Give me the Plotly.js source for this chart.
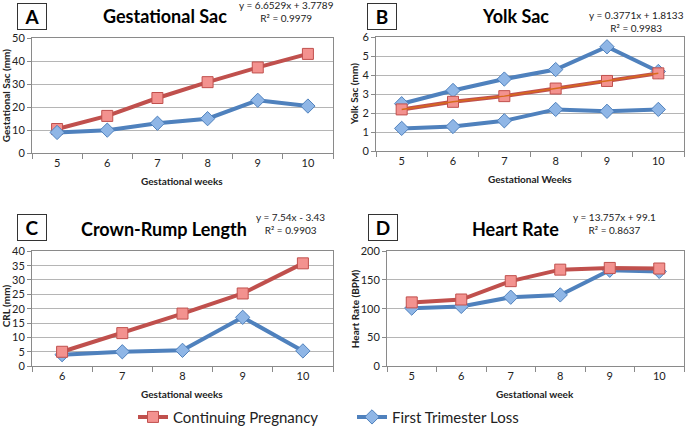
<!DOCTYPE html>
<html><head><meta charset="utf-8">
<script src="https://cdn.plot.ly/plotly-3.0.1.min.js"></script>
<style>html,body{margin:0;padding:0;background:#fff}#c{width:685px;height:434px}</style>
</head><body><div id="c"></div>
<script>
// ---- data ----
const weeksA = [5,6,7,8,9,10];
const gsContinuing = [10.5,16.2,24.0,30.9,37.3,43.2];
const gsLoss = [9.0,10.0,13.0,15.0,23.0,20.5];

const weeksB = [5,6,7,8,9,10];
const ysContinuing = [2.2,2.6,2.9,3.3,3.7,4.1];
const ysLossUpper = [2.5,3.2,3.8,4.3,5.5,4.2];
const ysLossLower = [1.2,1.3,1.6,2.2,2.1,2.2];

const weeksC = [6,7,8,9,10];
const crlContinuing = [5.0,11.5,18.3,25.3,35.8];
const crlLoss = [4.0,5.0,5.5,17.0,5.3];

const weeksD = [5,6,7,8,9,10];
const hrContinuing = [111,116,148,168,171,170];
const hrLoss = [101,104,120,124,167,165];

const seriesNames = ['Continuing Pregnancy','First Trimester Loss'];
const panelLetters = ['A','B','C','D'];
const panelTitles = ['Gestational Sac','Yolk Sac','Crown-Rump Length','Heart Rate'];
const equations = ['y = 6.6529x + 3.7789<br>R² = 0.9979','y = 0.3771x + 1.8133<br>R² = 0.9983','y = 7.54x - 3.43<br>R² = 0.9903','y = 13.757x + 99.1<br>R² = 0.8637'];
const xTitles = ['Gestational weeks','Gestational Weeks','Gestational weeks','Gestational week'];
const yTitles = ['Gestational Sac (mm)','Yolk Sac (mm)','CRL (mm)','Heart Rate (BPM)'];

// ---- styling ----
const W=685,H=434;
const px = x => x/W, py = y => 1 - y/H;
const RED='#c0504d', BLUE='#4f81bd';
const FONT='Lato, "Open Sans", sans-serif';
const redMarker = {symbol:'square', size:11, color:'#f3928f', line:{color:RED, width:1}};
const blueMarker = {symbol:'diamond', size:11, color:'#8fb6e6', line:{color:BLUE, width:1}};

function red(x,y,xa,ya,legend){
  return {x:x,y:y,xaxis:xa,yaxis:ya,type:'scatter',mode:'lines+markers',name:seriesNames[0],
    line:{color:RED,width:4},marker:redMarker,showlegend:!!legend,legend:'legend',hoverinfo:'x+y'};
}
function blue(x,y,xa,ya,legend){
  return {x:x,y:y,xaxis:xa,yaxis:ya,type:'scatter',mode:'lines+markers',name:seriesNames[1],
    line:{color:BLUE,width:4},marker:blueMarker,showlegend:!!legend,legend:'legend2',hoverinfo:'x+y'};
}

const data = [
  red(weeksA,gsContinuing,'x','y',true),
  blue(weeksA,gsLoss,'x','y',true),
  blue(weeksB,ysLossUpper,'x2','y2'),
  blue(weeksB,ysLossLower,'x2','y2'),
  red(weeksB,ysContinuing,'x2','y2'),
  {x:weeksB,y:ysContinuing,xaxis:'x2',yaxis:'y2',type:'scatter',mode:'lines',line:{color:'#d86a1a',width:1.5},showlegend:false,hoverinfo:'skip'},
  blue(weeksC,crlLoss,'x3','y3'),
  red(weeksC,crlContinuing,'x3','y3'),
  blue(weeksD,hrLoss,'x4','y4'),
  red(weeksD,hrContinuing,'x4','y4'),
];

function xax(dom,range,t0,anchor){
  return {domain:dom,range:range,anchor:anchor,tick0:t0,dtick:1,ticks:'',showgrid:false,zeroline:false,
    showline:true,linecolor:'#8a8a8a',linewidth:1,mirror:true,
    tickfont:{family:FONT,size:11,color:'#222'},fixedrange:true,
    minor:{tick0:0.5,dtick:1,ticks:'outside',ticklen:5,tickcolor:'#8a8a8a',showgrid:false}};
}
function yax(dom,range,dt,anchor){
  return {domain:dom,range:range,anchor:anchor,dtick:dt,tick0:0,ticks:'outside',ticklen:4,tickcolor:'#8a8a8a',
    showgrid:true,gridcolor:'#b5b5b5',gridwidth:1,zeroline:false,showline:true,linecolor:'#8a8a8a',mirror:true,
    tickfont:{family:FONT,size:11,color:'#222'},fixedrange:true};
}

const boxes=[[32,16.5],[382,16.5],[32,232],[383,232]];
const titlePos=[[165,16],[515,16],[164,233],[515,233]];
const eqPos=[[286,12],[636,22],[290,228],[614,228]];
const xtPos=[[182,184],[530,182],[182,401],[535,401]];
const ytPos=[[6,97],[354,96],[6,312],[355,315]];

const ann=[];
for(let i=0;i<4;i++){
  ann.push({xref:'paper',yref:'paper',x:px(boxes[i][0]),y:py(boxes[i][1]),text:'<b>'+panelLetters[i]+'</b>',showarrow:false,
    font:{family:FONT,size:19,color:'#000'},bordercolor:'#333',borderwidth:1,borderpad:0,width:28,height:25,bgcolor:'#fff',xanchor:'center',yanchor:'middle'});
  ann.push({xref:'paper',yref:'paper',x:px(titlePos[i][0]),y:py(titlePos[i][1]),text:'<b>'+panelTitles[i]+'</b>',showarrow:false,
    font:{family:FONT,size:18,color:'#000'},xanchor:'center',yanchor:'middle'});
  ann.push({xref:'paper',yref:'paper',x:px(eqPos[i][0]),y:py(eqPos[i][1]),text:equations[i],showarrow:false,
    font:{family:FONT,size:10,color:'#222'},xanchor:'center',yanchor:'middle',align:'center'});
  ann.push({xref:'paper',yref:'paper',x:px(xtPos[i][0]),y:py(xtPos[i][1]),text:'<b>'+xTitles[i]+'</b>',showarrow:false,
    font:{family:FONT,size:10,color:'#222'},xanchor:'center',yanchor:'middle'});
  ann.push({xref:'paper',yref:'paper',x:px(ytPos[i][0]),y:py(ytPos[i][1]),text:'<b>'+yTitles[i]+'</b>',showarrow:false,textangle:-90,
    font:{family:FONT,size:10,color:'#222'},xanchor:'center',yanchor:'middle'});
}

const layout = {
  width:W,height:H,margin:{l:0,r:0,t:0,b:0},paper_bgcolor:'#fff',plot_bgcolor:'#fff',
  font:{family:FONT},
  xaxis: xax([px(32),px(333)],[4.5,10.5],5,'y'),
  yaxis: yax([py(156),py(39)],[0,50],10,'x'),
  xaxis2: xax([px(376),px(684)],[4.5,10.5],5,'y2'),
  yaxis2: yax([py(154),py(38)],[0,6],1,'x2'),
  xaxis3: xax([px(32),px(333)],[5.5,10.5],6,'y3'),
  yaxis3: yax([py(373),py(256)],[0,40],5,'x3'),
  xaxis4: xax([px(387),px(684)],[4.5,10.5],5,'y4'),
  yaxis4: yax([py(373),py(256)],[0,200],50,'x4'),
  showlegend:true,
  legend:{x:px(133),y:py(425),xanchor:'left',yanchor:'middle',orientation:'h',bgcolor:'rgba(0,0,0,0)',
    font:{family:FONT,size:15,color:'#222'},itemwidth:30},
  legend2:{x:px(352),y:py(425),xanchor:'left',yanchor:'middle',orientation:'h',bgcolor:'rgba(0,0,0,0)',
    font:{family:FONT,size:15,color:'#222'},itemwidth:30},
  annotations:ann
};
Plotly.newPlot('c',data,layout,{displayModeBar:false,staticPlot:true});
</script></body></html>
